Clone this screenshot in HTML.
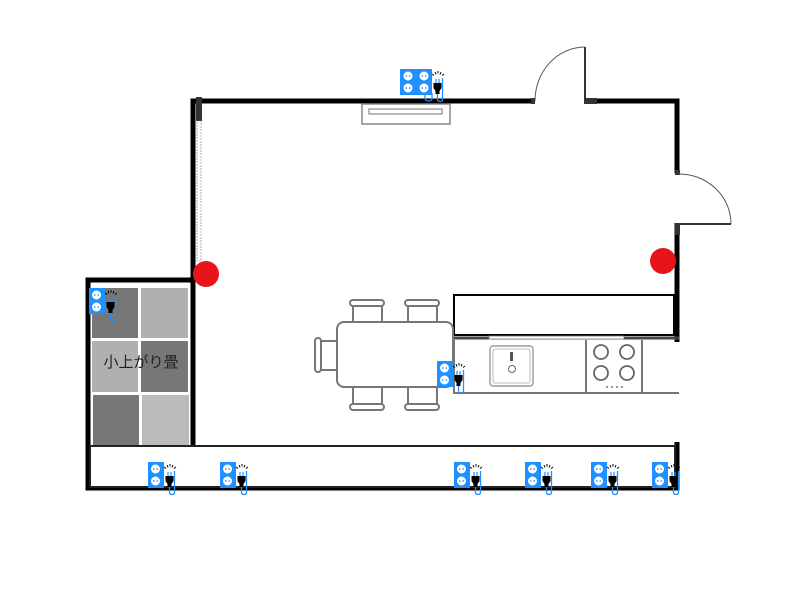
<!DOCTYPE html>
<html><head><meta charset="utf-8"><style>html,body{margin:0;padding:0;background:#fff}svg{display:block}</style></head>
<body>
<svg width="800" height="600" viewBox="0 0 800 600" xmlns="http://www.w3.org/2000/svg">
<defs>
<g id="plug">
  <path d="M20,14 v-4 M23,14 v-4" stroke="#1e90ff" stroke-width="1.2"/>
  <path d="M17.5,14 h8 v5 l-2,3 v3 h-4 v-3 l-2,-3 z" fill="#000"/>
  <path d="M19,3 l1,2.5 M22,2 v2.5 M25,3 l-1,2.5 M16,5 l2,1.5 M28,5 l-2,1.5" stroke="#000" stroke-width="1"/>
  <path d="M21.5,25 v5 q0,2.5 2.5,2.5 q2.5,0 2.5,-2.5 v-21 " stroke="#1e90ff" stroke-width="1.3" fill="none"/>
</g>
<g id="out2">
  <rect x="0" y="0" width="16" height="26" fill="#1e90ff"/>
  <circle cx="7.5" cy="7" r="4.5" fill="#fff"/><circle cx="7.5" cy="19" r="4.5" fill="#fff"/>
  <path d="M5.8,6 v2 M9.2,6 v2 M5.8,18 v2 M9.2,18 v2" stroke="#1e90ff" stroke-width="1"/>
  <use href="#plug" x="0" y="0"/>
</g>
</defs>

<!-- tatami -->
<rect x="92" y="288" width="46" height="50" fill="#777"/>
<rect x="141" y="288" width="47" height="50" fill="#b0b0b0"/>
<rect x="92" y="341" width="46" height="51" fill="#b0b0b0"/>
<rect x="141" y="341" width="47" height="51" fill="#777"/>
<rect x="93" y="395" width="46" height="50" fill="#777"/>
<rect x="142" y="395" width="47" height="50" fill="#bbb"/>
<text x="141" y="367" font-family="Liberation Sans, Noto Sans CJK JP, sans-serif" font-size="15" text-anchor="middle" fill="#222">小上がり畳</text>

<!-- walls -->
<path d="M193,445 V101 H677 V342" stroke="#000" stroke-width="5" fill="none"/>
<path d="M193,280 H88 V488 H677 V442" stroke="#000" stroke-width="5" fill="none"/>
<rect x="196" y="97" width="6" height="24" fill="#333"/>
<rect x="197" y="121" width="4" height="140" fill="#fff" stroke="#999" stroke-width="0.8" stroke-dasharray="2,1"/>
<!-- top door -->
<rect x="534" y="98" width="50" height="6" fill="#fff"/>
<rect x="531" y="98" width="4" height="6" fill="#333"/>
<rect x="584" y="98" width="13" height="6" fill="#333"/>
<line x1="585" y1="47" x2="585" y2="101" stroke="#333" stroke-width="2"/>
<path d="M535,101 A50,54 0 0 1 585,47" stroke="#555" stroke-width="1" fill="none"/>
<!-- right door -->
<rect x="674" y="173" width="6" height="50" fill="#fff"/>
<rect x="675" y="170" width="5" height="5" fill="#333"/>
<rect x="675" y="223" width="5" height="12" fill="#333"/>
<line x1="679" y1="224" x2="731" y2="224" stroke="#333" stroke-width="2"/>
<path d="M679,174 A52,50 0 0 1 731,224" stroke="#555" stroke-width="1" fill="none"/>

<!-- AC -->
<rect x="362" y="104" width="88" height="20" fill="#fff" stroke="#888" stroke-width="1.5"/>
<rect x="369" y="109" width="73" height="5" fill="#fff" stroke="#888" stroke-width="1.2"/>

<!-- counter bottom -->
<rect x="90" y="446" width="585" height="41" fill="#fff" stroke="#222" stroke-width="2"/>

<!-- upper cabinet -->
<rect x="454" y="295" width="220" height="40" fill="#fff" stroke="#000" stroke-width="2"/>
<path d="M454,338 H679" stroke="#444" stroke-width="3"/>
<rect x="489" y="336" width="135" height="3" fill="#fff" stroke="#777" stroke-width="0.8"/>
<!-- lower counter -->
<path d="M454,340 V393 H679 M586,340 V393 M642,340 V393" stroke="#777" stroke-width="2" fill="none"/>
<rect x="490" y="346" width="43" height="40" rx="3" fill="#fff" stroke="#888" stroke-width="1.2"/>
<rect x="493" y="349" width="37" height="34" rx="2" fill="none" stroke="#aaa" stroke-width="0.8"/>
<rect x="510" y="352" width="3" height="9" fill="#555"/>
<circle cx="512" cy="369" r="3.5" fill="#fff" stroke="#666"/>
<g fill="none" stroke="#666" stroke-width="1.8">
<circle cx="601" cy="352" r="7"/><circle cx="627" cy="352" r="7"/>
<circle cx="601" cy="373" r="7"/><circle cx="627" cy="373" r="7"/></g>
<g fill="#777"><circle cx="607" cy="387" r="1"/><circle cx="612" cy="387" r="1"/><circle cx="617" cy="387" r="1"/><circle cx="622" cy="387" r="1"/></g>

<!-- table & chairs -->
<g fill="#fff" stroke="#777" stroke-width="2">
<rect x="353" y="304" width="29" height="20" />
<rect x="408" y="304" width="29" height="20" />
<rect x="353" y="386" width="29" height="20" />
<rect x="408" y="386" width="29" height="20" />
<rect x="319" y="341" width="20" height="29" />
<rect x="350" y="300" width="34" height="6" rx="3"/>
<rect x="405" y="300" width="34" height="6" rx="3"/>
<rect x="350" y="404" width="34" height="6" rx="3"/>
<rect x="405" y="404" width="34" height="6" rx="3"/>
<rect x="315" y="338" width="6" height="34" rx="3"/>
<rect x="337" y="322" width="116" height="65" rx="7"/>
</g>

<!-- red markers -->
<circle cx="206" cy="274" r="13" fill="#e8141c"/>
<circle cx="663" cy="261" r="13" fill="#e8141c"/>

<!-- outlets -->
<use href="#out2" x="89" y="288"/>
<use href="#out2" x="148" y="462"/>
<use href="#out2" x="220" y="462"/>
<use href="#out2" x="454" y="462"/>
<use href="#out2" x="525" y="462"/>
<use href="#out2" x="591" y="462"/>
<use href="#out2" x="652" y="462"/>
<use href="#out2" x="437" y="361"/>
<!-- quad -->
<g transform="translate(400,69)">
  <rect x="0" y="0" width="32" height="26" fill="#1e90ff"/>
  <circle cx="8" cy="7" r="4.5" fill="#fff"/><circle cx="8" cy="19" r="4.5" fill="#fff"/>
  <circle cx="24" cy="7" r="4.5" fill="#fff"/><circle cx="24" cy="19" r="4.5" fill="#fff"/>
  <path d="M6.3,6 v2 M9.7,6 v2 M6.3,18 v2 M9.7,18 v2 M22.3,6 v2 M25.7,6 v2 M22.3,18 v2 M25.7,18 v2" stroke="#1e90ff" stroke-width="1"/>
  <path d="M25,24 v5 q0,3 3.5,3 q3.5,0 3.5,-3 v-5" stroke="#1e90ff" stroke-width="1.3" fill="none"/>
  <use href="#plug" x="16" y="0"/>
</g>
</svg>
</body></html>
